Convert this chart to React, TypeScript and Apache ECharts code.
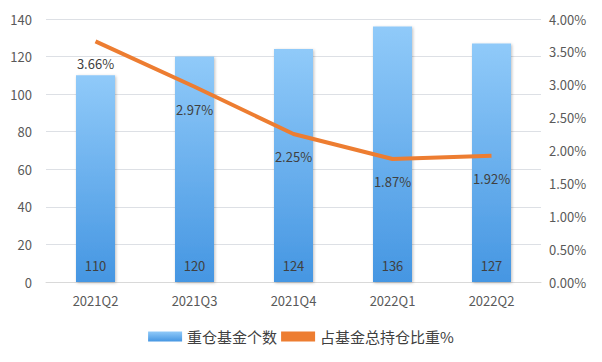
import React, { useEffect, useRef } from "react";
import * as echarts from "echarts";

const categories = ["2021Q2", "2021Q3", "2021Q4", "2022Q1", "2022Q2"];
const fundCounts = [110, 120, 124, 136, 127];
const holdingPct = [3.66, 2.97, 2.25, 1.87, 1.92];
const barName = "重仓基金个数";
const lineName = "占基金总持仓比重%";

const FONT = "'Noto Sans CJK SC', 'Noto Sans', sans-serif";

export default function App() {
  const ref = useRef<HTMLDivElement>(null);
  useEffect(() => {
    const chart = echarts.init(ref.current!, null, { renderer: "svg" });
    chart.setOption({
      animation: false,
      backgroundColor: "#fff",
      textStyle: { fontFamily: FONT },
      grid: { left: 44, right: 59, top: 17, bottom: 78 },
      legend: {
        bottom: 11,
        left: "center",
        itemGap: 4,
        itemWidth: 34,
        itemHeight: 10,
        textStyle: { color: "#404040", fontSize: 15, fontFamily: FONT },
        data: [
          { name: barName, icon: "rect" },
          { name: lineName, icon: "rect" },
        ],
      },
      xAxis: {
        type: "category",
        data: categories,
        axisLine: { lineStyle: { color: "#d9d9d9" } },
        axisTick: { show: false },
        axisLabel: { color: "#595959", fontSize: 13, margin: 12, fontFamily: FONT },
      },
      yAxis: [
        {
          type: "value",
          min: 0,
          max: 140,
          interval: 20,
          axisLine: { show: false },
          axisTick: { show: false },
          axisLabel: { color: "#595959", fontSize: 13, margin: 14, fontFamily: FONT },
          splitLine: { lineStyle: { color: "#dde0e5" } },
        },
        {
          type: "value",
          min: 0,
          max: 4,
          interval: 0.5,
          axisLine: { show: false },
          axisTick: { show: false },
          axisLabel: {
            color: "#595959",
            fontSize: 13,
            margin: 8,
            fontFamily: FONT,
            formatter: (v: number) => v.toFixed(2) + "%",
          },
          splitLine: { show: false },
        },
      ],
      series: [
        {
          name: barName,
          type: "bar",
          data: fundCounts,
          barWidth: 39,
          itemStyle: {
            color: new echarts.graphic.LinearGradient(0, 0, 0, 1, [
              { offset: 0, color: "#90CAF9" },
              { offset: 1, color: "#4596E2" },
            ]),
            shadowColor: "rgba(0,0,0,0.25)",
            shadowBlur: 3,
            shadowOffsetX: 1,
            shadowOffsetY: 1,
          },
          label: {
            show: true,
            position: "insideBottom",
            distance: 10,
            color: "#404040",
            fontSize: 13,
            fontFamily: FONT,
          },
        },
        {
          name: lineName,
          type: "line",
          yAxisIndex: 1,
          data: holdingPct,
          showSymbol: true,
          symbol: "circle",
          symbolSize: 0,
          itemStyle: { color: "#ED7D31" },
          lineStyle: { color: "#ED7D31", width: 4 },
          label: {
            show: true,
            position: "bottom",
            distance: 16,
            color: "#404040",
            fontSize: 13,
            fontFamily: FONT,
            formatter: (p: any) => Number(p.value).toFixed(2) + "%",
          },
        },
      ],
    });
    return () => chart.dispose();
  }, []);
  return (
    <div
      style={{
        width: 600,
        height: 360,
        border: "1px solid #d9d9d9",
        boxSizing: "border-box",
        margin: -7,
        background: "#fff",
      }}
    >
      <div ref={ref} style={{ width: 598, height: 358 }} />
    </div>
  );
}
